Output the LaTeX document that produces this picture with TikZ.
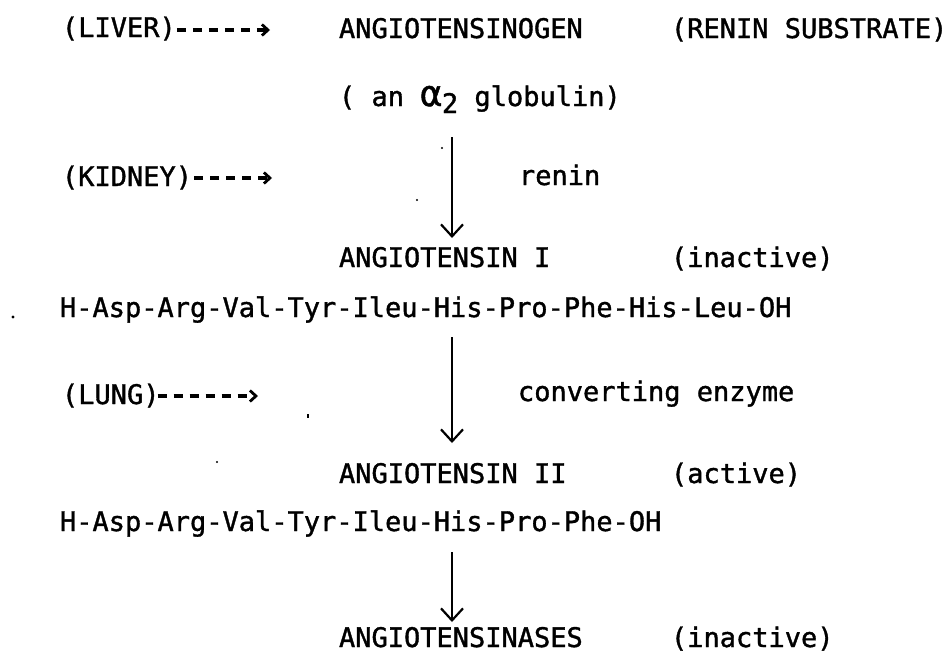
\documentclass[tikz,border=0pt]{standalone}
\usepackage{fontspec}
\newfontfamily\tw[FakeBold=1.3]{DejaVu Sans Mono}
\usetikzlibrary{arrows.meta,calc}
\begin{document}
\begin{tikzpicture}[x=1pt,y=-1pt,
  txt/.style={inner sep=0pt, outer sep=0pt, anchor=base west, font=\tw\fontsize{27}{30}\selectfont},
  vline/.style={line width=2.2pt, -{Straight Barb[length=12pt,width=22pt,line width=2.2pt]}},
  dline/.style={line width=3.2pt, dash pattern=on 9pt off 7pt, -{Straight Barb[length=6pt,width=11pt,line width=2.8pt]}},
  speck/.style={fill=black, draw=none}]
\useasboundingbox (0,0) rectangle (952,656);
\coordinate (ax) at (452,0);
% row 1
\node[txt] (liver) at (62,37) {(LIVER)};
\node[txt] (agen) at (339,38) {ANGIOTENSINOGEN};
\node[txt] (rsub) at (671,38) {(RENIN SUBSTRATE)};
\coordinate (liverend) at (270,30);
\draw[dline] ($(liver.east |- liverend)+(1,0)$) -- (liverend);
% row 2
\node[txt] (glob) at (339,106) {( an {\fontsize{36}{36}\selectfont α}\raisebox{-7pt}{2} globulin)};
% renin step
\node[txt] (kidney) at (62,186) {(KIDNEY)};
\coordinate (kidneyend) at (272,178);
\draw[dline] ($(kidney.east |- kidneyend)+(2,0)$) -- (kidneyend);
\node[txt] (renin) at (519,185) {renin};
% angiotensin I
\node[txt] (ang1) at (339,267) {ANGIOTENSIN I};
\node[txt] (inact1) at (671,267) {(inactive)};
\node[txt] (pep1) at (60,317) {H-Asp-Arg-Val-Tyr-Ileu-His-Pro-Phe-His-Leu-OH};
% converting step
\node[txt] (lung) at (62,404) {(LUNG)};
\coordinate (lungend) at (258,396);
\draw[dline] ($(lung.east |- lungend)+(-2,0)$) -- (lungend);
\node[txt] (conv) at (518,401) {converting enzyme};
% angiotensin II
\node[txt] (ang2) at (339,483) {ANGIOTENSIN II};
\node[txt] (act) at (671,483) {(active)};
\node[txt] (pep2) at (60,531) {H-Asp-Arg-Val-Tyr-Ileu-His-Pro-Phe-OH};
% angiotensinases
\node[txt] (ases) at (339,647) {ANGIOTENSINASES};
\node[txt] (inact2) at (671,647) {(inactive)};
% vertical arrows
\draw[vline] ($(glob.base -| ax)+(0,31)$) -- ($(ang1.base -| ax)+(0,-29)$);
\draw[vline] ($(pep1.base -| ax)+(0,20)$) -- ($(ang2.base -| ax)+(0,-40)$);
\draw[vline] ($(pep2.base -| ax)+(0,21)$) -- ($(ases.base -| ax)+(0,-25)$);
% scan specks
\fill[speck] (13,317) circle (1.6);
\fill[speck] (442,148) circle (1.2);
\fill[speck] (417,200) circle (1.1);
\fill[speck] (307,414) rectangle (308.5,418);
\fill[speck] (217,462) circle (1.1);
\end{tikzpicture}
\end{document}
